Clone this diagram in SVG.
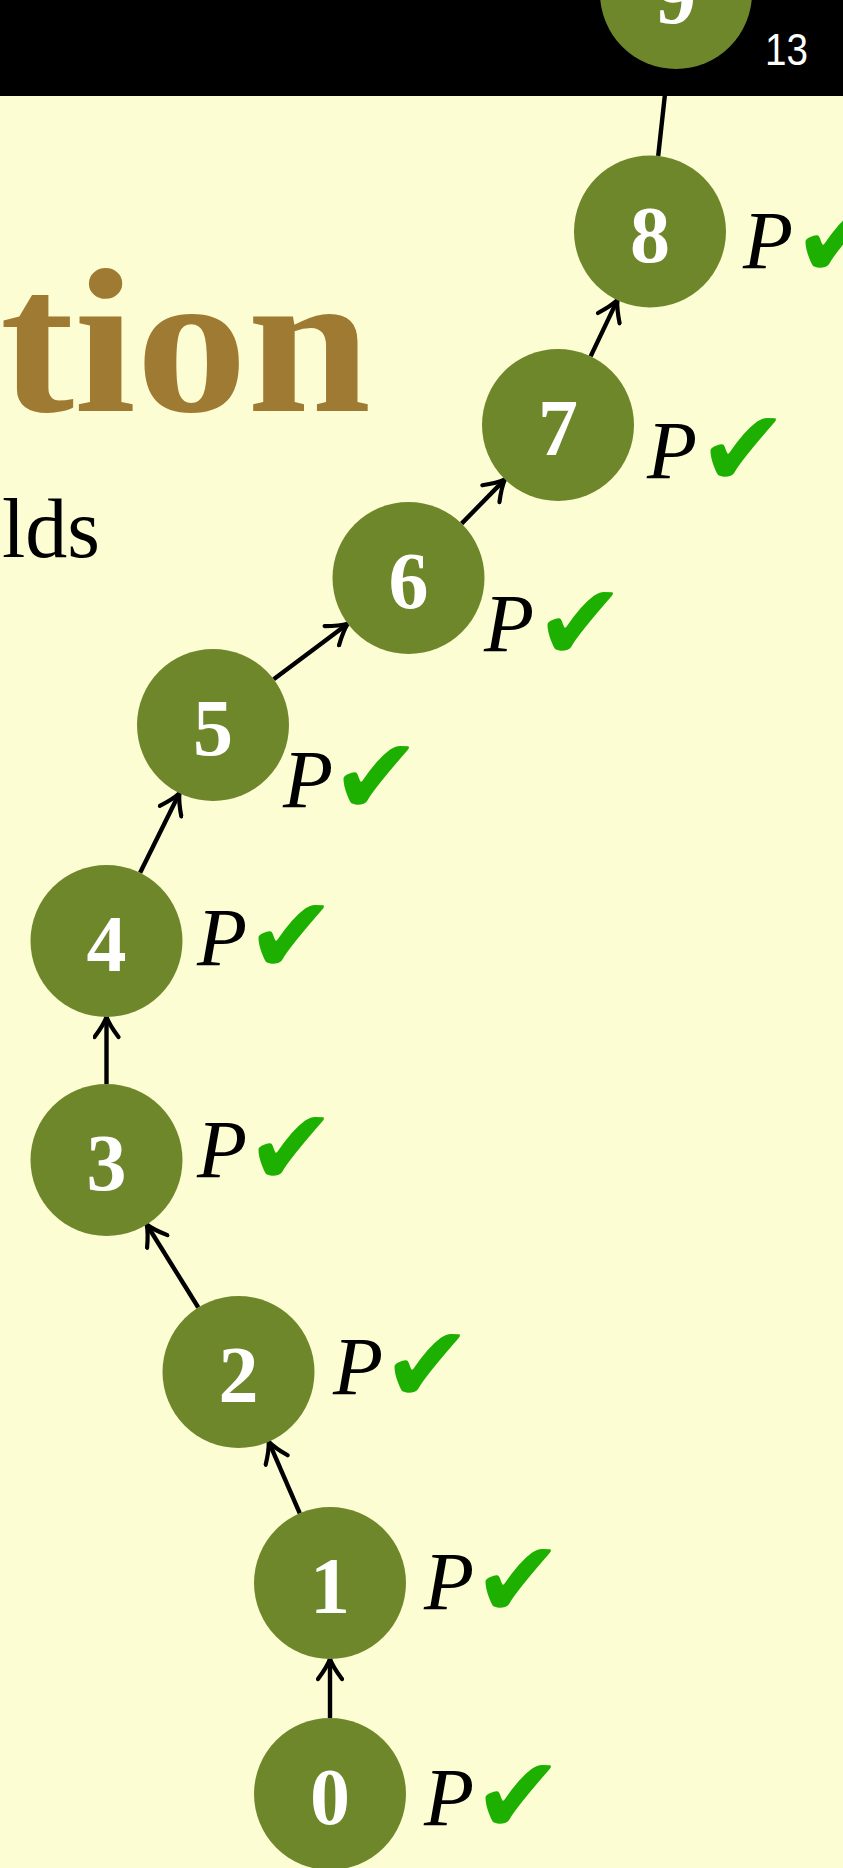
<svg xmlns="http://www.w3.org/2000/svg" width="843" height="1868" viewBox="0 0 843 1868">
<style>
.bg{fill:#fdfdd3}
.bar{fill:#000}
.node circle{fill:#6f872b}
.num{font-family:"Liberation Serif",serif;font-weight:bold;font-size:80px;fill:#fff;text-anchor:middle}
.p{font-family:"Liberation Serif",serif;font-style:italic;font-size:82px;fill:#000}
.ck{font-family:"DejaVu Sans",sans-serif;font-size:108px;fill:#1db000}
.edge{stroke:#000;stroke-width:4.4;fill:none}
</style>
<defs>
<marker id="arr" markerUnits="userSpaceOnUse" viewBox="-24 -14 28 28" refX="0" refY="0" markerWidth="28" markerHeight="28" orient="auto">
<path d="M -20,-12 Q -8,-3 0,0 Q -8,3 -20,12" stroke="#000" stroke-width="4.2" fill="none" stroke-linecap="round"/>
</marker>
</defs>
<rect class="bg" x="0" y="0" width="843" height="1868"/>
<rect class="bar" x="0" y="0" width="843" height="96"/>
<text x="765" y="65" font-family="Liberation Sans, sans-serif" font-size="44" fill="#fff" textLength="43" lengthAdjust="spacingAndGlyphs">13</text>
<text x="0" y="411" font-family="Liberation Serif, serif" font-weight="bold" font-size="205" fill="#9e7a32" textLength="371" lengthAdjust="spacingAndGlyphs">tion</text>
<text x="2" y="557" font-family="Liberation Serif, serif" font-size="84" fill="#000">lds</text>
<g id="edges">
<line class="edge" x1="330" y1="1718" x2="330" y2="1659" marker-end="url(#arr)"/>
<line class="edge" x1="299.8" y1="1513.3" x2="268.7" y2="1441.7" marker-end="url(#arr)"/>
<line class="edge" x1="198.3" y1="1307.5" x2="146.7" y2="1224.5" marker-end="url(#arr)"/>
<line class="edge" x1="106.5" y1="1084" x2="106.5" y2="1017" marker-end="url(#arr)"/>
<line class="edge" x1="140.1" y1="872.8" x2="179.4" y2="793.2" marker-end="url(#arr)"/>
<line class="edge" x1="273.7" y1="679.3" x2="347.8" y2="623.7" marker-end="url(#arr)"/>
<line class="edge" x1="461.6" y1="523.6" x2="504.9" y2="479.4" marker-end="url(#arr)"/>
<line class="edge" x1="590.6" y1="356.4" x2="617.4" y2="300.1" marker-end="url(#arr)"/>
<line class="edge" x1="658.2" y1="156" x2="667.8" y2="68.5" marker-end="url(#arr)"/>
</g>
<g id="n0" class="node"><circle cx="330" cy="1794" r="76"/><text class="num" x="330" y="1824">0</text><text class="p" x="424" y="1825">P</text><text class="ck" x="473" y="1833">✔</text></g>
<g id="n1" class="node"><circle cx="330" cy="1583" r="76"/><text class="num" x="330" y="1613">1</text><text class="p" x="424" y="1609">P</text><text class="ck" x="473" y="1617">✔</text></g>
<g id="n2" class="node"><circle cx="238.5" cy="1372" r="76"/><text class="num" x="238.5" y="1402">2</text><text class="p" x="333" y="1394">P</text><text class="ck" x="382" y="1402">✔</text></g>
<g id="n3" class="node"><circle cx="106.5" cy="1160" r="76"/><text class="num" x="106.5" y="1190">3</text><text class="p" x="197" y="1177">P</text><text class="ck" x="246" y="1185">✔</text></g>
<g id="n4" class="node"><circle cx="106.5" cy="941" r="76"/><text class="num" x="106.5" y="971">4</text><text class="p" x="197" y="965">P</text><text class="ck" x="246" y="973">✔</text></g>
<g id="n5" class="node"><circle cx="213" cy="725" r="76"/><text class="num" x="213" y="755">5</text><text class="p" x="283" y="807">P</text><text class="ck" x="331" y="814">✔</text></g>
<g id="n6" class="node"><circle cx="408.5" cy="578" r="76"/><text class="num" x="408.5" y="608">6</text><text class="p" x="484" y="651">P</text><text class="ck" x="535" y="660">✔</text></g>
<g id="n7" class="node"><circle cx="558" cy="425" r="76"/><text class="num" x="558" y="455">7</text><text class="p" x="647" y="478">P</text><text class="ck" x="698" y="486">✔</text></g>
<g id="n8" class="node"><circle cx="650" cy="231.5" r="76"/><text class="num" x="650" y="261.5">8</text><text class="p" x="743" y="268">P</text><text class="ck" x="793" y="277">✔</text></g>
<g id="n9" class="node"><circle cx="676" cy="-7" r="76"/><text class="num" x="676" y="23">9</text></g>
</svg>
